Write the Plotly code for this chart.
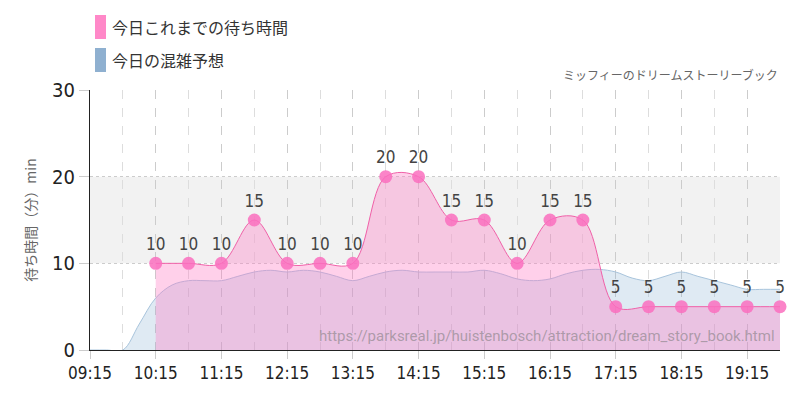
import plotly.graph_objects as go

wait_times = ["10:15","10:45","11:15","11:45","12:15","12:45","13:15","13:45","14:15","14:45",
              "15:15","15:45","16:15","16:45","17:15","17:45","18:15","18:45","19:15","19:45"]
wait_vals = [10,10,10,15,10,10,10,20,20,15,15,10,15,15,5,5,5,5,5,5]

fc_times = ["09:15","09:30","09:45","10:00","10:15","10:30","10:45","11:00","11:15","11:30","11:45",
            "12:00","12:15","12:30","12:45","13:00","13:15","13:30","13:45","14:00","14:15","14:30",
            "14:45","15:00","15:15","15:30","15:45","16:00","16:15","16:30","16:45","17:00","17:15",
            "17:30","17:45","18:00","18:15","18:30","18:45","19:00","19:15","19:30","19:45"]
fc_vals = [0,0,0,3,6,7.5,8,8,8,8.5,9,9.2,9,9.2,9,8.5,8,8.5,9,9.2,9,9,9,9,9.2,8.8,8.2,8,8.2,8.8,
           9.2,9.3,9,8.3,8,8.5,9,8.5,8,7.5,7,7,7]

tick_labels = ["09:15","10:15","11:15","12:15","13:15","14:15","15:15","16:15","17:15","18:15","19:15"]
legend_names = ["今日これまでの待ち時間", "今日の混雑予想"]
legend_colors = ["#ff88c8", "#8fb0d0"]

d = lambda t: "2024-01-01 " + t + ":00"
font = "DejaVu Sans Condensed, Liberation Sans Narrow, sans-serif"

fig = go.Figure()
fig.add_trace(go.Scatter(x=[d(t) for t in fc_times], y=fc_vals, name=legend_names[1],
    mode="lines", line=dict(color="#a8c4dc", width=1, shape="spline"), fill="tozeroy",
    fillcolor="rgba(150,185,215,0.3)"))
fig.add_trace(go.Scatter(x=[d(t) for t in wait_times], y=wait_vals, name=legend_names[0],
    mode="lines+markers+text", text=[str(v) for v in wait_vals], textposition="top center",
    textfont=dict(size=17, color="#444", family=font), cliponaxis=False,
    line=dict(color="#f060a8", width=1, shape="spline"), fill="tozeroy",
    fillcolor="rgba(255,120,195,0.35)", marker=dict(size=13, color="rgba(250,110,190,0.85)")))

fig.add_hrect(y0=10, y1=20, fillcolor="#f2f2f2", line_width=0, layer="below")
for i, (n, c) in enumerate(zip(legend_names, legend_colors)):
    yp = (350 - (27 + 33 * i)) / 260
    fig.add_shape(type="rect", xref="paper", yref="paper", layer="above", line_width=0, fillcolor=c,
                  x0=(95 - 90) / 690, x1=(106 - 90) / 690, y0=yp - 12 / 260, y1=yp + 12 / 260)
    fig.add_annotation(xref="paper", yref="paper", x=(110 - 90) / 690, y=yp,
                       xanchor="left", yanchor="middle", showarrow=False, text=n,
                       font=dict(size=16, color="#333"))
fig.add_annotation(text="ミッフィーのドリームストーリーブック", xref="paper", yref="paper", x=1, y=1.02,
    xanchor="right", yanchor="bottom", showarrow=False, font=dict(size=12, color="#666"))
fig.add_annotation(text="https://parksreal.jp/huistenbosch/attraction/dream_story_book.html",
    xref="paper", yref="paper", x=0.995, y=0.01, xanchor="right", yanchor="bottom", showarrow=False,
    font=dict(size=15, color="rgba(120,120,120,0.55)", family="Roboto"))

fig.update_layout(width=800, height=400, margin=dict(l=82, r=28, t=82, b=58),
    plot_bgcolor="white", paper_bgcolor="white",
    font=dict(family="Noto Sans CJK JP", color="#333"), showlegend=False)
fig.update_xaxes(type="date", range=[d("09:15"), d("19:45")],
    tickvals=[d(t) for t in tick_labels], ticktext=tick_labels, tickangle=0,
    tickfont=dict(size=17, family=font, color="#222"), ticks="outside", ticklen=8, tickcolor="#ccc",
    showgrid=True, gridcolor="#ccc", griddash="dash",
    minor=dict(dtick=1800000, tick0=d("09:15"), showgrid=True, gridcolor="#ddd", griddash="dash"),
    showline=True, linecolor="#222", zeroline=False)
fig.update_yaxes(range=[0, 30], tickvals=[0, 10, 20, 30], tickfont=dict(size=20, family=font, color="#222"),
    ticks="outside", ticklen=10, tickcolor="#ccc", showgrid=True, gridcolor="#ccc", griddash="dot",
    showline=True, linecolor="#222", zeroline=False,
    title=dict(text="待ち時間（分）min", font=dict(size=14, color="#666"), standoff=12))
fig.write_html("out.html")
